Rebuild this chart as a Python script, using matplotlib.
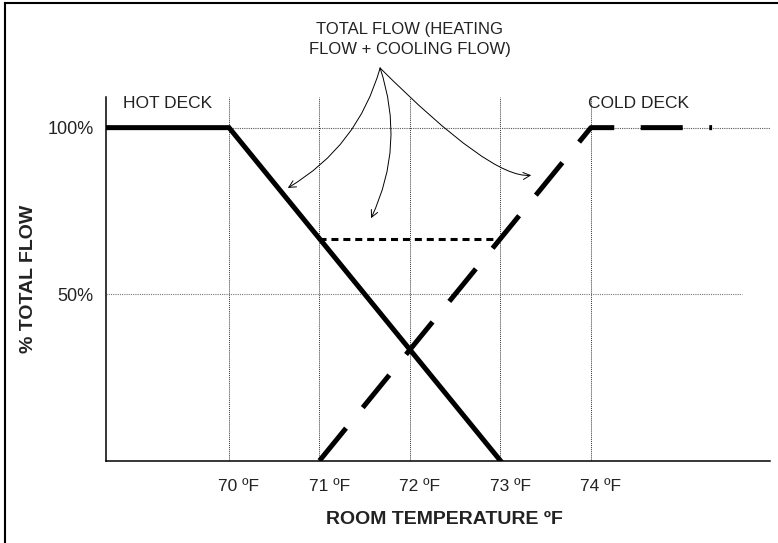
import matplotlib
matplotlib.use("Agg")
from matplotlib import pyplot as plt
from matplotlib.lines import Line2D
import matplotlib.transforms as mtransforms

plt.rcParams['font.family'] = ['Liberation Sans', 'DejaVu Sans']

# room temperature ticks
temps = [70, 71, 72, 73, 74]
temp_labels = ['70 ºF', '71 ºF', '72 ºF', '73 ºF', '74 ºF']
flow_ticks = [50, 100]
flow_labels = ['50%', '100%']

# hot deck flow (%)
hot_x = [68.64, 70, 73]
hot_y = [100, 100, 0]
# cold deck flow (%)
cold_x = [71, 74, 75.34]
cold_y = [0, 100, 100]
# total flow level between 71 and 73
total_x = [71, 73]
total_y = [66.7, 66.7]

# arrow ends for the total flow callout
callout_apex = (71.67, 117.9)
arrow_ends = [(70.65, 81.9), (71.57, 72.8), (73.34, 85.7)]

fig = plt.figure(figsize=(7.78, 5.43), dpi=100)
ax = fig.add_axes([106 / 778, 82.3 / 543, 664 / 778, 363.7 / 543])
ax.set_xlim(68.64, 75.98)
ax.set_ylim(0, 109.2)

for s in ['top', 'right']:
    ax.spines[s].set_visible(False)
for s in ['left', 'bottom']:
    ax.spines[s].set_linewidth(1.1)

# grid
for t in temps:
    ax.axvline(t, color='#333333', lw=0.7, ls=(0, (1, 1)), zorder=1)
ax.axhline(100, color='#555555', lw=0.8, ls=(0, (1, 1)), zorder=1)
ax.hlines(50, 68.64, 75.67, color='#777777', lw=0.8, ls=(0, (1, 1)), zorder=1)

ax.plot(hot_x, hot_y, color='black', lw=3.6, solid_joinstyle='miter', zorder=3)
ax.plot(cold_x, cold_y, color='black', lw=3.6, dashes=(8.4, 5.3), zorder=3)
ax.plot(total_x, total_y, color='black', lw=2.2, dashes=(2.3, 1.6), zorder=3)

ax.set_xticks(temps, temp_labels)
ax.set_yticks(flow_ticks, flow_labels)
ax.tick_params(axis='x', length=0, pad=13, labelsize=12.5, colors='#222222')
ax.tick_params(axis='y', length=0, pad=9, labelsize=13, colors='#222222')
shift = mtransforms.ScaledTranslation(7 / 72, 0, fig.dpi_scale_trans)
for lbl in ax.get_xticklabels():
    lbl.set_transform(lbl.get_transform() + shift)

ax.set_xlabel('ROOM TEMPERATURE ºF', fontsize=14, fontweight='bold', color='#222222')
ax.xaxis.set_label_coords(0.51, -0.138)
ax.set_ylabel('% TOTAL FLOW', fontsize=14, fontweight='bold', color='#222222')
ax.yaxis.set_label_coords(-0.104, 0.5)

ax.text(68.83, 107.1, 'HOT DECK', fontsize=12.5, va='center', ha='left', color='#222222')
ax.text(73.97, 107.1, 'COLD DECK', fontsize=12.5, va='center', ha='left', color='#222222')
ax.text(72.0, 126.5, 'TOTAL FLOW (HEATING\nFLOW + COOLING FLOW)', fontsize=12,
        ha='center', va='center', linespacing=1.45, color='#222222', clip_on=False)

styles = ['arc3,rad=-0.2', 'arc3,rad=-0.2', 'angle3,angleA=-45,angleB=5']
for end, cs in zip(arrow_ends, styles):
    ax.annotate('', xy=end, xytext=callout_apex, xycoords='data', textcoords='data',
                annotation_clip=False,
                arrowprops=dict(arrowstyle='->,head_length=0.5,head_width=0.25',
                                connectionstyle=cs, lw=0.7, color='black',
                                shrinkA=0, shrinkB=0))

# frame on the left and top
fx, fy = 5 / 778, 1 - 3 / 543
fig.add_artist(Line2D([fx, fx], [0, fy], transform=fig.transFigure, color='black', lw=1.5))
fig.add_artist(Line2D([fx, 1], [fy, fy], transform=fig.transFigure, color='black', lw=1.5))

fig.savefig('out.png', dpi=100)
